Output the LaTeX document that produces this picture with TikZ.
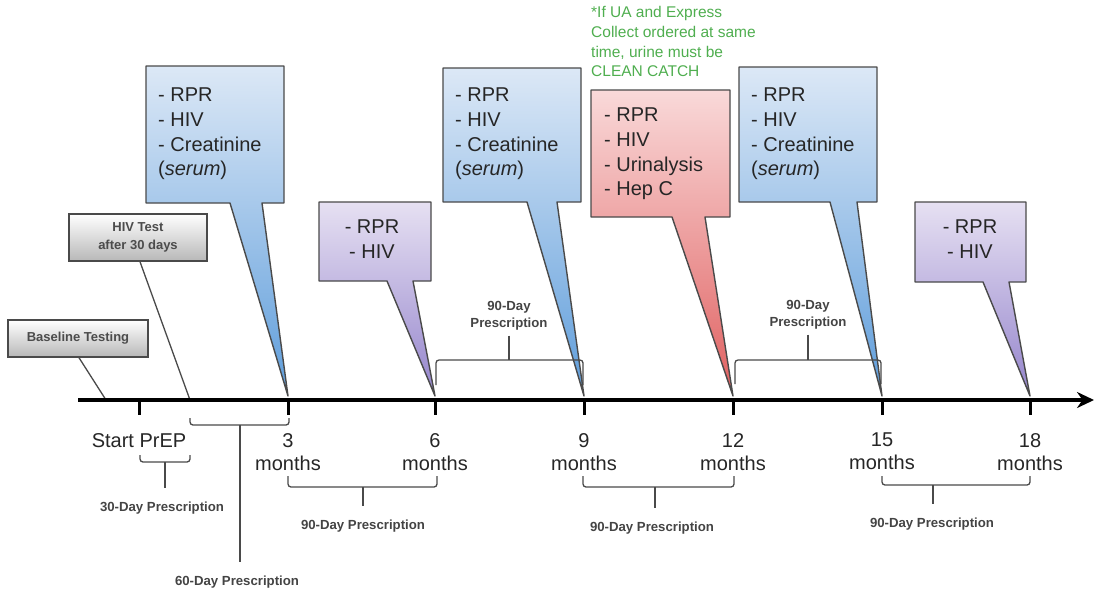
\documentclass[tikz,border=0pt]{standalone}
\usepackage{fontspec}
\setmainfont{Liberation Sans}
\usepackage{tikz}
\usetikzlibrary{arrows.meta, positioning, calc}
\tikzset{>=stealth}
\usepackage{xcolor}
\definecolor{bluetop}{HTML}{DCE8F6}
\definecolor{bluebot}{HTML}{5E9DDB}
\definecolor{purptop}{HTML}{E6E0F2}
\definecolor{purpbot}{HTML}{9484CC}
\definecolor{redtop}{HTML}{F9D9D9}
\definecolor{redbot}{HTML}{E06060}
\definecolor{notegreen}{HTML}{4FAE4F}
\definecolor{edgegray}{HTML}{4A4A4A}
\definecolor{labgray}{HTML}{444444}

\begin{document}
\begin{tikzpicture}[x=1pt, y=-1pt,
	callout/.style={draw=edgegray, line width=1.4pt, line join=round},
	boxtext/.style={inner sep=0pt, align=left, anchor=north west, text=black!85, font=\fontsize{20}{24.6}\selectfont},
	graybox/.style={draw=edgegray, line width=1.4pt, top color=white, bottom color=black!28, inner sep=0pt, align=center, text=black!70, font=\bfseries\fontsize{13}{17.5}\selectfont},
	brk/.style={draw=edgegray, line width=1.3pt, rounded corners=3pt},
	smalllab/.style={inner sep=2pt, align=center, text=labgray, font=\bfseries\fontsize{13.2}{17}\selectfont},
	monthlab/.style={inner sep=0pt, align=center, anchor=north, text=black!85, font=\fontsize{20}{23}\selectfont},
	tick/.style={line width=3pt}]
	\useasboundingbox (0,0) rectangle (1094,592);

	% callouts (shape first, text on top)
	\path[callout, top color=bluetop, bottom color=bluebot] (146,66) -- (284,66) -- (284,203) -- (262,203) -- (288,396) -- (230,203) -- (146,203) -- cycle;
	\node[boxtext] (c3) at (158,88) {- RPR\\- HIV\\- Creatinine\\(\textit{serum})};
	\path[callout, top color=purptop, bottom color=purpbot] (319,202) -- (431,202) -- (431,281) -- (413,281) -- (435,396) -- (387,281) -- (319,281) -- cycle;
	\node[boxtext, anchor=north, align=center] (c6) at (372,220) {- RPR\\- HIV};
	\path[callout, top color=bluetop, bottom color=bluebot] (443,68) -- (581,68) -- (581,202) -- (557,202) -- (584,396) -- (527,202) -- (443,202) -- cycle;
	\node[boxtext] (c9) at (455,88) {- RPR\\- HIV\\- Creatinine\\(\textit{serum})};
	\path[callout, top color=redtop, bottom color=redbot] (591,90) -- (730,90) -- (730,217) -- (705,217) -- (733,396) -- (672,217) -- (591,217) -- cycle;
	\node[boxtext] (c12) at (604,108) {- RPR\\- HIV\\- Urinalysis\\- Hep C};
	\path[callout, top color=bluetop, bottom color=bluebot] (739,67) -- (877,67) -- (877,202) -- (857,202) -- (882,396) -- (830,202) -- (739,202) -- cycle;
	\node[boxtext] (c15) at (751,88) {- RPR\\- HIV\\- Creatinine\\(\textit{serum})};
	\path[callout, top color=purptop, bottom color=purpbot] (915,202) -- (1026,202) -- (1026,282) -- (1009,282) -- (1030,396) -- (983,282) -- (915,282) -- cycle;
	\node[boxtext, anchor=north, align=center] (c18) at (970,220) {- RPR\\- HIV};

	\node[inner sep=0pt, align=left, anchor=north west, text=notegreen, font=\fontsize{15.5}{19.8}\selectfont] (note) at (591,6) {*If UA and Express\\Collect ordered at same\\time, urine must be\\CLEAN CATCH};

	% gray boxes
	\node[graybox, minimum width=140pt, minimum height=37pt] (base) at (78,338.5) {Baseline Testing};
	\node[graybox, minimum width=138pt, minimum height=47pt] (hiv) at (138,237.5) {HIV Test\\after 30 days};
	\coordinate (bt) at (106,400);
	\coordinate (ht) at (190,400);
	\draw[line width=1.3pt, edgegray] (base.south) ++(1,0) -- (bt);
	\draw[line width=1.3pt, edgegray] (hiv.south) ++(2,0) -- (ht);

	% timeline
	\draw[line width=4pt, -{Stealth[length=17pt, width=16pt]}] (78,400) -- (1094,400);
	\foreach \x/\n in {139/m0, 288/m3, 435/m6, 584/m9, 733/m12, 882/m15, 1030/m18}
		\draw[tick] (\x,400) coordinate (\n) -- ++(0,15);

	\node[monthlab] (t0) at (139,433) {Start PrEP};
	\node[monthlab] (t3) at (288,433) {3\\months};
	\node[monthlab] (t6) at (435,433) {6\\months};
	\node[monthlab] (t9) at (584,433) {9\\months};
	\node[monthlab] (t12) at (733,433) {12\\months};
	\node[monthlab] (t15) at (882,433) {15\\months};
	\node[monthlab] (t18) at (1030,433) {18\\months};

	% prescriptions above the line
	\draw[brk] (436,385) -- (436,360) -- (509,360) coordinate (b69) -- (583,360) -- (583,385);
	\node[smalllab] (p69) at (509,316) {90-Day\\Prescription};
	\draw[brk, shorten <=3pt] (p69.south -| b69) -- (b69);
	\draw[brk] (735,384) -- (735,360) -- (808,360) coordinate (b1215) -- (881,360) -- (881,384);
	\node[smalllab] (p1215) at (808,315) {90-Day\\Prescription};
	\draw[brk, shorten <=3pt] (p1215.south -| b1215) -- (b1215);

	% prescriptions below the line
	\draw[brk] (140,455) -- (140,462) -- (165,462) coordinate (b30) -- (190,462) -- (190,455);
	\node[smalllab] (p30) at (162,508) {30-Day Prescription};
	\draw[brk, shorten >=12pt] (b30) -- (b30 |- p30.north);
	\draw[brk] (190,418) -- (190,425) -- (240,425) coordinate (b60) -- (289,425) -- (289,418);
	\node[smalllab] (p60) at (237,582) {60-Day Prescription};
	\draw[brk, shorten >=12pt] (b60) -- (b60 |- p60.north);
	\draw[brk] (288,476) -- (288,487) -- (363,487) coordinate (b36) -- (437,487) -- (437,476);
	\node[smalllab] (p36) at (363,526) {90-Day Prescription};
	\draw[brk, shorten >=12pt] (b36) -- (b36 |- p36.north);
	\draw[brk] (583,476) -- (583,487) -- (655,487) coordinate (b912) -- (734,487) -- (734,476);
	\node[smalllab] (p912) at (652,528) {90-Day Prescription};
	\draw[brk, shorten >=12pt] (b912) -- (b912 |- p912.north);
	\draw[brk] (882,476) -- (882,485) -- (933,485) coordinate (b1518) -- (1030,485) -- (1030,476);
	\node[smalllab] (p1518) at (932,524) {90-Day Prescription};
	\draw[brk, shorten >=12pt] (b1518) -- (b1518 |- p1518.north);
\end{tikzpicture}
\end{document}
